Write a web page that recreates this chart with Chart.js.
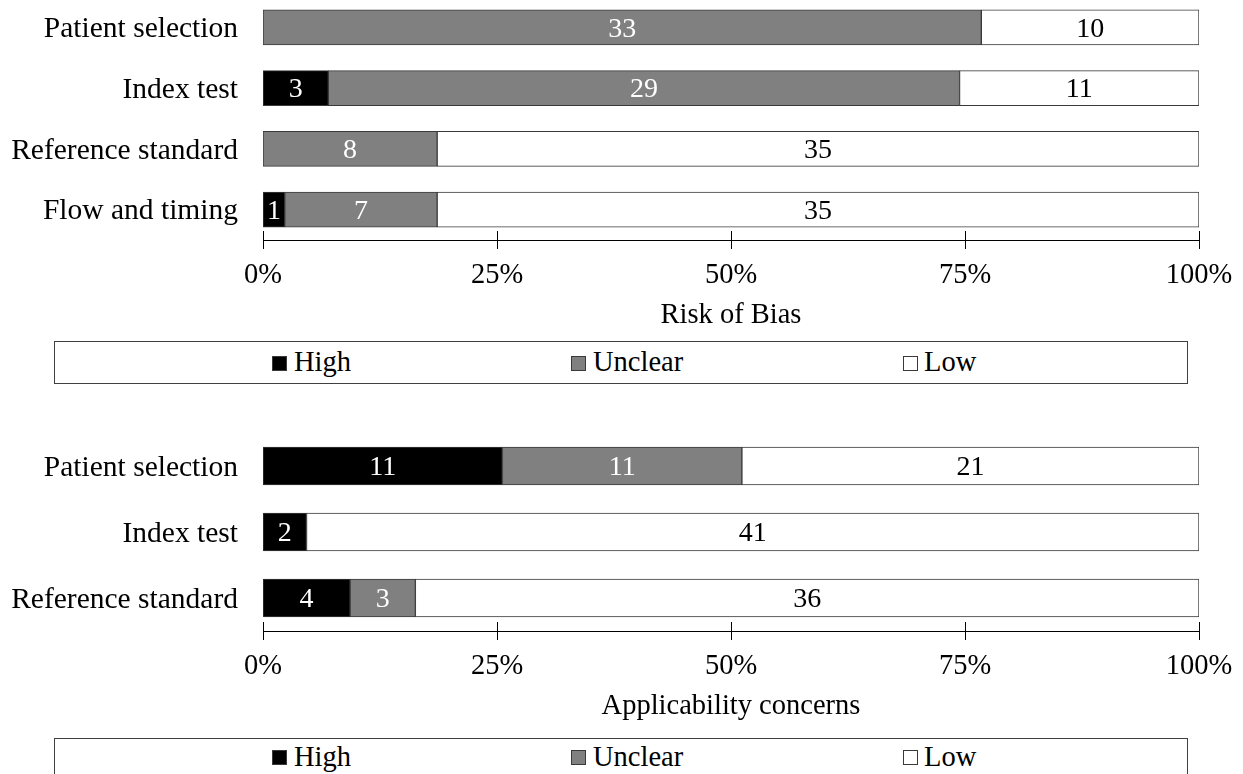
<!DOCTYPE html>
<html>
<head>
<meta charset="utf-8">
<script src="https://cdn.jsdelivr.net/npm/chart.js@4.4.1/dist/chart.umd.min.js"></script>
<style>
  html,body{margin:0;padding:0;background:#fff;}
  body{width:1243px;height:774px;position:relative;overflow:hidden;font-family:'Liberation Serif','Times New Roman',serif;}
  canvas{position:absolute;left:0;}
  .legend-box{position:absolute;left:54px;width:1134px;border:1px solid #404040;box-sizing:border-box;background:#fff;}
  .legend-mark{position:absolute;width:15px;height:15px;box-sizing:border-box;border:1px solid #3a3a3a;}
  .legend-text{position:absolute;font-size:28.5px;line-height:1;color:#000;white-space:nowrap;}
</style>
</head>
<body>
<canvas id="biasChart" width="1243" height="340" style="top:-3px"></canvas>
<canvas id="applicChart" width="1243" height="295" style="top:433px"></canvas>
<script>
// QUADAS-2 summary, counts of studies
const categoriesBias = ['Patient selection','Index test','Reference standard','Flow and timing'];
const highBias    = [0, 3, 0, 1];
const unclearBias = [33, 29, 8, 7];
const lowBias     = [10, 11, 35, 35];

const categoriesApplic = ['Patient selection','Index test','Reference standard'];
const highApplic    = [11, 2, 4];
const unclearApplic = [11, 0, 3];
const lowApplic     = [21, 41, 36];

const seriesNames = ['High','Unclear','Low'];
const axisTicks = [0, 25, 50, 75, 100];
const biasTitle = 'Risk of Bias';
const applicTitle = 'Applicability concerns';

const FONT = "'Liberation Serif','Times New Roman',serif";
const fills = ['#000000','#808080','#ffffff'];
const labelColors = ['#ffffff','#ffffff','#000000'];

// numbers inside the bars
const valueLabels = {
  id:'valueLabels',
  afterDatasetsDraw(chart){
    const ctx = chart.ctx;
    ctx.save();
    ctx.font = '28px ' + FONT;
    ctx.textAlign = 'center';
    ctx.textBaseline = 'middle';
    chart.data.datasets.forEach((ds,i)=>{
      const meta = chart.getDatasetMeta(i);
      meta.data.forEach((bar,j)=>{
        const n = ds.counts[j];
        if(!n) return;
        const p = bar.getCenterPoint();
        ctx.fillStyle = labelColors[i];
        ctx.fillText(String(n), p.x, p.y + 2);
      });
    });
    ctx.restore();
  }
};

// tick marks crossing the axis line
const crossTicks = {
  id:'crossTicks',
  afterDraw(chart){
    const sx = chart.scales.x, y = chart.chartArea.bottom, ctx = chart.ctx;
    ctx.save();
    ctx.strokeStyle = '#000';
    ctx.lineWidth = 1;
    ctx.beginPath();
    sx.ticks.forEach(t=>{
      const x = Math.round(sx.getPixelForValue(t.value)) + 0.5;
      ctx.moveTo(x, y - 9);
      ctx.lineTo(x, y + 9);
    });
    ctx.stroke();
    ctx.restore();
  }
};

function pct(counts, totals){
  return counts.map((c,i)=>c / totals[i] * 100);
}

function makeChart(id, labels, high, unclear, low, title, barThickness, areaHeight){
  const totals = labels.map((_,i)=>high[i] + unclear[i] + low[i]);
  const series = [high, unclear, low];
  const canvas = document.getElementById(id);
  return new Chart(canvas, {
    type:'bar',
    data:{
      labels,
      datasets: series.map((s,i)=>({
        label: seriesNames[i],
        data: pct(s, totals),
        counts: s,
        backgroundColor: fills[i],
        borderColor: '#3a3a3a',
        borderWidth: 1,
        borderSkipped: false,
        barThickness
      }))
    },
    options:{
      indexAxis:'y',
      responsive:false,
      animation:false,
      events:[],
      layout:{padding:{left:0, right:44, top:0, bottom:0}},
      plugins:{legend:{display:false}, tooltip:{enabled:false}},
      scales:{
        x:{
          stacked:true,
          min:0, max:100,
          grid:{display:false, drawTicks:false},
          border:{display:true, color:'#000', width:1},
          afterBuildTicks(scale){ scale.ticks = axisTicks.map(v=>({value:v})); },
          afterFit(scale){
            scale.height = canvas.height - areaHeight;
            scale.paddingLeft = 0; scale.paddingRight = 0;
          },
          ticks:{
            color:'#000',
            padding:18,
            maxRotation:0,
            autoSkip:false,
            font:{family:FONT, size:28.5},
            callback:(v)=>v + '%'
          },
          title:{
            display:true,
            text:title,
            color:'#000',
            font:{family:FONT, size:28.5},
            padding:{top:0, bottom:4}
          }
        },
        y:{
          stacked:true,
          grid:{display:false, drawTicks:false},
          border:{display:false},
          afterFit(scale){
            scale.width = 263;
            scale.paddingTop = 0; scale.paddingBottom = 0;
          },
          ticks:{
            color:'#000',
            padding:25,
            labelOffset:2,
            autoSkip:false,
            font:{family:FONT, size:29.5}
          }
        }
      }
    },
    plugins:[valueLabels, crossTicks]
  });
}

function buildLegend(top, height, markTop, textTop){
  const box = document.createElement('div');
  box.className = 'legend-box';
  box.style.top = top + 'px';
  box.style.height = height + 'px';
  document.body.appendChild(box);
  const markX = [272, 571, 903];
  const textX = [294, 593, 924];
  seriesNames.forEach((name,i)=>{
    const m = document.createElement('div');
    m.className = 'legend-mark';
    m.style.left = markX[i] + 'px';
    m.style.top = markTop + 'px';
    m.style.background = fills[i];
    document.body.appendChild(m);
    const t = document.createElement('div');
    t.className = 'legend-text';
    t.style.left = textX[i] + 'px';
    t.style.top = textTop + 'px';
    t.textContent = name;
    document.body.appendChild(t);
  });
}

makeChart('biasChart', categoriesBias, highBias, unclearBias, lowBias, biasTitle, 35, 243);
makeChart('applicChart', categoriesApplic, highApplic, unclearApplic, lowApplic, applicTitle, 38, 198);
buildLegend(341, 43, 356, 348);
buildLegend(738, 45, 750, 742.5);
</script>
</body>
</html>
